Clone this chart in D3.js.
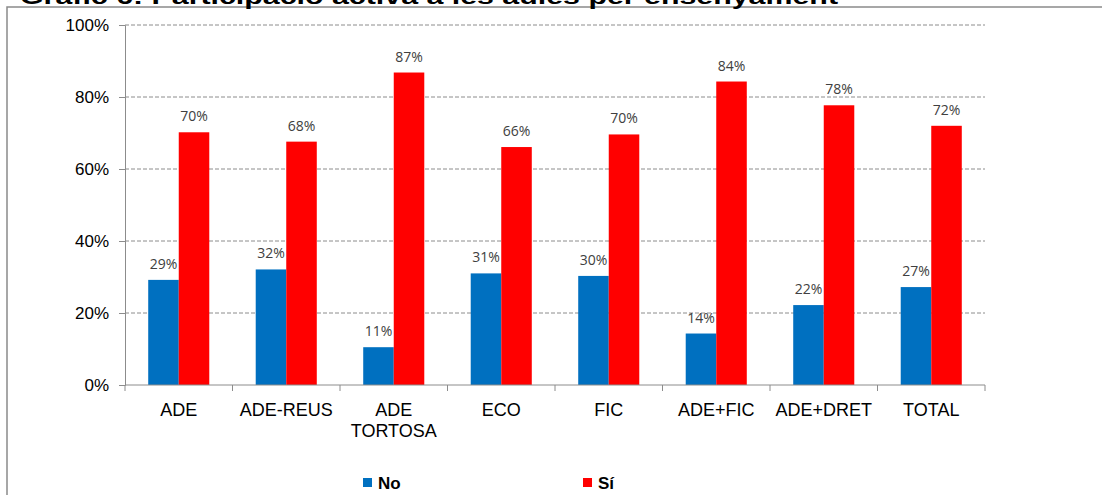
<!DOCTYPE html>
<html>
<head>
<meta charset="utf-8">
<script src="https://cdn.jsdelivr.net/npm/d3@7"></script>
<style>
  body { margin: 0; background: #fff; }
  svg { display: block; }
</style>
</head>
<body>
<div class="chartWrap"></div>
<script>
//Data
const categories = ["ADE", "ADE-REUS", "ADE\nTORTOSA", "ECO", "FIC", "ADE+FIC", "ADE+DRET", "TOTAL"];
const valuesNo = [29.2, 32.1, 10.5, 31.0, 30.3, 14.3, 22.2, 27.2];
const valuesSi = [70.2, 67.6, 86.8, 66.1, 69.6, 84.3, 77.7, 72.0];
const seriesNames = ["No", "Sí"];
const seriesColors = ["#0070C0", "#FF0000"];
const yTicks = [0, 20, 40, 60, 80, 100];
const titleText = "Gràfic 6: Participació activa a les aules per ensenyament";

//Variables
const W = 1102, H = 495,
  margin = {top: 25, right: 117, bottom: 110, left: 125},
  w = W - margin.left - margin.right,
  h = H - margin.top - margin.bottom;

const svg = d3.select(".chartWrap").append("svg").attr("width", W).attr("height", H);

//Frame + title (cut at top, as in the source)
svg.append("rect").attr("x", 7).attr("y", 7).attr("width", W + 20).attr("height", H + 20)
  .attr("fill", "none").attr("stroke", "#8a8a8a").attr("stroke-width", 1.5);
svg.append("text").text(titleText).attr("x", 20).attr("y", 4)
  .attr("font-family", "Liberation Sans, Arial, sans-serif").attr("font-weight", "bold")
  .attr("font-size", 22).attr("textLength", 818).attr("lengthAdjust", "spacingAndGlyphs").attr("fill", "#000");

const g = svg.append("g").attr("transform", `translate(${margin.left},${margin.top})`);

//Scales
const x = d3.scaleBand().domain(categories).range([0, w]).padding(0);
const y = d3.scaleLinear().domain([0, 100]).range([h, 0]);
const barW = x.bandwidth() * 0.284;

//Gridlines
g.selectAll(".grid").data(yTicks.filter(d => d > 0)).enter().append("line")
  .attr("x1", 0).attr("x2", w)
  .attr("y1", d => y(d)).attr("y2", d => y(d))
  .attr("stroke", "#8c8c8c").attr("stroke-width", 1).attr("stroke-dasharray", "4,2");

//Y axis
const yAxis = g.append("g").call(d3.axisLeft(y).tickValues(yTicks).tickSize(6).tickPadding(10).tickFormat(d => d + "%"));
yAxis.select(".domain").attr("stroke", "#8c8c8c");
yAxis.selectAll(".tick line").attr("stroke", "#8c8c8c");
yAxis.selectAll("text").attr("font-family", "Liberation Sans, Arial, sans-serif").attr("font-size", 17).attr("fill", "#000");

//Bars + data labels
const series = [valuesNo, valuesSi];
series.forEach(function(vals, si) {
  g.selectAll(".bar" + si).data(vals).enter().append("rect")
    .attr("x", (d, i) => x(categories[i]) + x.bandwidth() / 2 - barW + si * barW)
    .attr("y", d => y(d))
    .attr("width", barW)
    .attr("height", d => h - y(d))
    .attr("fill", seriesColors[si]);
  g.selectAll(".lab" + si).data(vals).enter().append("text")
    .text(d => Math.round(d) + "%")
    .attr("x", (d, i) => x(categories[i]) + x.bandwidth() / 2 - barW / 2 + si * barW)
    .attr("y", d => y(d) - 11)
    .attr("text-anchor", "middle")
    .attr("font-family", "Open Sans, sans-serif").attr("font-size", 14).attr("fill", "#404040");
});

//X axis
g.append("line").attr("x1", 0).attr("x2", w).attr("y1", h).attr("y2", h).attr("stroke", "#8c8c8c");
g.selectAll(".xtick").data(d3.range(categories.length + 1)).enter().append("line")
  .attr("x1", d => d * x.bandwidth()).attr("x2", d => d * x.bandwidth())
  .attr("y1", h).attr("y2", h + 6).attr("stroke", "#8c8c8c");
const xl = g.selectAll(".xlab").data(categories).enter().append("text")
  .attr("x", d => x(d) + x.bandwidth() / 2)
  .attr("y", h + 31)
  .attr("text-anchor", "middle")
  .attr("font-family", "Liberation Sans, Arial, sans-serif").attr("font-size", 18).attr("fill", "#000");
xl.selectAll("tspan").data(d => d.split("\n").map(t => ({t: t, cx: x(d) + x.bandwidth() / 2}))).enter().append("tspan")
  .attr("x", d => d.cx).attr("dy", (d, i) => i === 0 ? 0 : 21).text(d => d.t);

//Legend
const legX = [363, 583];
seriesNames.forEach(function(n, i) {
  svg.append("rect").attr("x", legX[i]).attr("y", 478).attr("width", 9).attr("height", 9).attr("fill", seriesColors[i]);
  svg.append("text").text(n).attr("x", legX[i] + 15).attr("y", 489)
    .attr("font-family", "Liberation Sans, Arial, sans-serif").attr("font-weight", "bold").attr("font-size", 17).attr("fill", "#000");
});
</script>
</body>
</html>
